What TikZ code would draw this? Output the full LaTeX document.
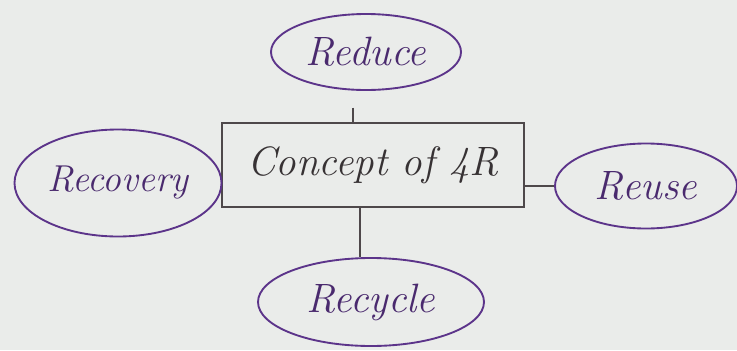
\documentclass[tikz,border=0pt]{standalone}
\usepackage{tikz}
\usetikzlibrary{shapes}
\usetikzlibrary{calc}
\usetikzlibrary{positioning}
\definecolor{ink}{RGB}{92,52,138}
\definecolor{pencil}{RGB}{78,72,74}
\definecolor{paper}{RGB}{234,236,234}
\tikzset{
  idea/.style={ellipse,draw=ink,line width=1.6pt,text=ink!80!black,inner sep=0pt,font=\fontsize{35}{40}\selectfont\itshape},
  conceptbox/.style={rectangle,draw=pencil,line width=1.6pt,text=pencil!70!black,inner sep=0pt,font=\fontsize{35}{40}\selectfont\itshape},
  link/.style={draw=pencil,line width=1.6pt}
}
\begin{document}
\begin{tikzpicture}
\fill[paper] (0,0) rectangle (22.11,-10.5);
\useasboundingbox (0,0) rectangle (22.11,-10.5);
\node[conceptbox,minimum width=9.06cm,minimum height=2.52cm] (concept) at (11.19,-4.95) {Concept of 4R};
\node[idea,minimum width=5.7cm,minimum height=2.28cm] (reduce) at (10.98,-1.56) {Reduce};
\node[idea,minimum width=6.21cm,minimum height=3.21cm,font=\fontsize{32}{36}\selectfont\itshape] (recovery) at (3.54,-5.49) {Recovery};
\node[idea,minimum width=5.46cm,minimum height=2.55cm] (reuse) at (19.38,-5.58) {Reuse};
\node[idea,minimum width=6.78cm,minimum height=2.64cm] (recycle) at (11.13,-9.06) {Recycle};
%links
\draw[link,shorten <=0.5cm] ([xshift=-0.4cm]reduce.south) -- ([xshift=-0.4cm]reduce.south |- concept.north);
\draw[link] ([xshift=-0.4cm]concept.south) -- ([xshift=-0.4cm]concept.south |- recycle.north);
\draw[link] (reuse.west) -- (reuse.west -| concept.east);
\end{tikzpicture}
\end{document}
